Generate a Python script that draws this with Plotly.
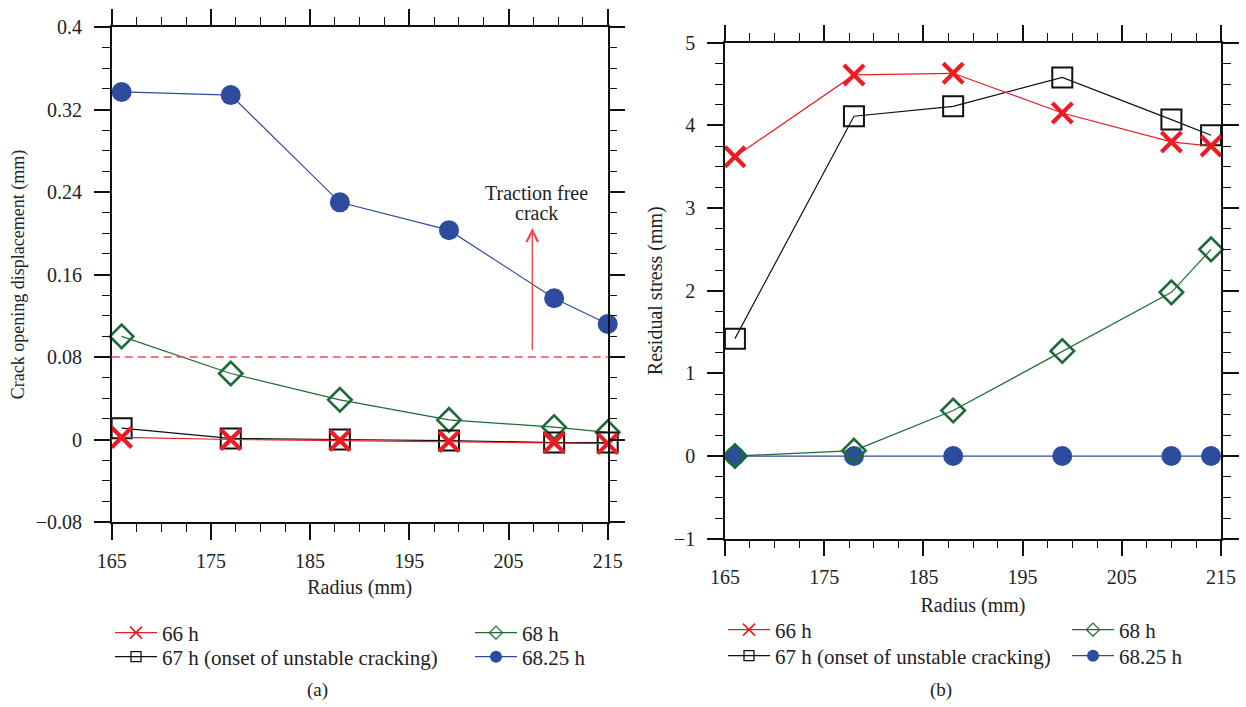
import plotly.graph_objects as go

# ---------------- data ----------------
SERIES_NAMES = ["66 h", "67 h (onset of unstable cracking)", "68 h", "68.25 h"]

# (a) crack opening displacement
RADIUS_A = [166, 177, 188, 199, 209.6, 215]
COD_66 = [0.002, 0.0, -0.001, -0.002, -0.003, -0.004]
COD_67 = [0.011, 0.001, 0.0, -0.001, -0.003, -0.003]
COD_68 = [0.100, 0.064, 0.0385, 0.019, 0.012, 0.007]
COD_6825 = [0.337, 0.334, 0.230, 0.203, 0.137, 0.112]
TRACTION_FREE_COD = 0.08
ARROW_X = 207.4
ARROW_Y = [0.0855, 0.205]
ANNOT_LINES = ["Traction free", "crack"]
ANNOT_Y = [0.2387, 0.2192]

# (b) residual stress
RADIUS_B = [166, 178, 188, 199, 210, 214]
RS_66 = [3.62, 4.61, 4.63, 4.15, 3.80, 3.75]
RS_67 = [1.42, 4.11, 4.23, 4.58, 4.07, 3.88]
RS_68 = [0.0, 0.065, 0.55, 1.27, 1.98, 2.50]
RS_6825 = [0.0, 0.0, 0.0, 0.0, 0.0, 0.0]

# ---------------- style ----------------
RED = "#ED1C24"
BLACK = "#111111"
GREEN = "#1B6B35"
BLUE = "#2E4C9E"
DASH_RED = "#EE4A50"
TXT = "#222222"
FONT = "Liberation Serif"
FS = 20
LEG_FS = 21

W, H = 1246, 707
XA = [111.7 / W, 607.7 / W]
YA = [(H - 522) / H, (H - 27) / H]
XB = [725 / W, 1221 / W]
YB = [(H - 538.7) / H, (H - 42.7) / H]

fig = go.Figure()

styles = {
    "66 h": dict(color=RED, symbol="x-thin", size=20, lw=4.2, legsize=12, leglw=1.6),
    "67 h (onset of unstable cracking)": dict(color=BLACK, symbol="square-open", size=20, lw=2.0, legsize=10, leglw=1.3),
    "68 h": dict(color=GREEN, symbol="diamond-open", size=18, lw=2.6, legsize=10, leglw=1.3),
    "68.25 h": dict(color=BLUE, symbol="circle", size=20, lw=0, legsize=12, leglw=0),
}

def add_series(x, y, name, xaxis, yaxis):
    s = styles[name]
    fig.add_trace(go.Scatter(
        x=x, y=y, mode="lines+markers", name=name, showlegend=False,
        xaxis=xaxis, yaxis=yaxis, cliponaxis=False,
        line=dict(color=s["color"], width=1.2),
        marker=dict(symbol=s["symbol"], size=s["size"], color=s["color"],
                    line=dict(color=s["color"], width=s["lw"])),
    ))

def add_legend_entry(name, legend):
    s = styles[name]
    fig.add_trace(go.Scatter(
        x=[None], y=[None], mode="lines+markers", name=name, legend=legend,
        xaxis="x", yaxis="y",
        line=dict(color=s["color"], width=1.3),
        marker=dict(symbol=s["symbol"], size=s["legsize"], color=s["color"],
                    line=dict(color=s["color"], width=s["leglw"])),
    ))

# draw order: blue, green, black, red (red on top)
for name, ya_vals in [("68.25 h", COD_6825), ("68 h", COD_68),
                      ("67 h (onset of unstable cracking)", COD_67), ("66 h", COD_66)]:
    add_series(RADIUS_A, ya_vals, name, "x", "y")
for name, yb_vals in [("68.25 h", RS_6825), ("68 h", RS_68),
                      ("67 h (onset of unstable cracking)", RS_67), ("66 h", RS_66)]:
    add_series(RADIUS_B, yb_vals, name, "x2", "y2")

# one legend per entry, placed in a 2x2 grid below each panel
legend_layout = {}
grid_a = {"66 h": (110, 633), "68 h": (470, 633),
          "67 h (onset of unstable cracking)": (110, 657), "68.25 h": (470, 657)}
grid_b = {"66 h": (723, 630), "68 h": (1067, 630),
          "67 h (onset of unstable cracking)": (723, 656), "68.25 h": (1067, 656)}
k = 1
for grid in (grid_a, grid_b):
    for name, (px, py) in grid.items():
        key = "legend" if k == 1 else f"legend{k}"
        add_legend_entry(name, key)
        legend_layout[key] = dict(
            x=px / W, xanchor="left", y=(H - py) / H, yanchor="middle",
            itemwidth=42,
            font=dict(family=FONT, size=LEG_FS, color=TXT), bgcolor="rgba(0,0,0,0)",
            borderwidth=0)
        k += 1

axis_common = dict(
    showline=True, linecolor=BLACK, linewidth=1.5, mirror="ticks",
    ticks="outside", ticklen=16, tickwidth=1.5, tickcolor=BLACK,
    showgrid=False, zeroline=False, automargin=False,
    tickfont=dict(family=FONT, size=FS, color=TXT),
)
minor_common = dict(ticklen=8, tickwidth=1.3, tickcolor=BLACK, ticks="outside")

fig.update_layout(
    width=W, height=H,
    margin=dict(l=0, r=0, t=0, b=0),
    paper_bgcolor="white", plot_bgcolor="white",
    font=dict(family=FONT, size=FS, color=TXT),
    xaxis=dict(domain=XA, anchor="y", range=[165, 215], tick0=165, dtick=10,
               minor=dict(dtick=2.5, **minor_common),
               title=dict(text="Radius (mm)", standoff=9, font=dict(family=FONT, size=FS, color=TXT)),
               ticklabelstandoff=4, **axis_common),
    yaxis=dict(domain=YA, anchor="x", range=[-0.08, 0.4], tick0=-0.08, dtick=0.08,
               minor=dict(dtick=0.02, **minor_common),
               title=dict(text="Crack opening displacement (mm)", standoff=6,
                          font=dict(family=FONT, size=18, color=TXT)),
               ticklabelstandoff=8, **axis_common),
    xaxis2=dict(domain=XB, anchor="y2", range=[165, 215], tick0=165, dtick=10,
                minor=dict(dtick=2.5, **minor_common),
                title=dict(text="Radius (mm)", standoff=11, font=dict(family=FONT, size=FS, color=TXT)),
                ticklabelstandoff=4, **axis_common),
    yaxis2=dict(domain=YB, anchor="x2", range=[-1, 5], tick0=-1, dtick=1,
                minor=dict(dtick=0.25, **minor_common),
                title=dict(text="Residual stress (mm)", standoff=6,
                           font=dict(family=FONT, size=FS, color=TXT)),
                ticklabelstandoff=8, **axis_common),
    showlegend=True,
    **legend_layout,
)

# traction free reference line
fig.add_shape(type="line", xref="x domain", x0=0, x1=1, yref="y",
              y0=TRACTION_FREE_COD, y1=TRACTION_FREE_COD,
              line=dict(color=DASH_RED, width=1.4, dash="8px,5px"))

# arrow
fig.add_annotation(x=ARROW_X, y=ARROW_Y[1], ax=ARROW_X, ay=ARROW_Y[0],
                   xref="x", yref="y", axref="x", ayref="y", text="",
                   showarrow=True, arrowhead=5, arrowsize=1.6, arrowwidth=1.4,
                   arrowcolor=DASH_RED)
for txt, yv in zip(ANNOT_LINES, ANNOT_Y):
    fig.add_annotation(x=ARROW_X + 0.4, y=yv, xref="x", yref="y", text=txt,
                       showarrow=False, font=dict(family=FONT, size=FS, color=TXT))

# captions
fig.add_annotation(x=317 / W, y=(H - 690) / H, xref="paper", yref="paper", text="(a)",
                   xanchor="center", yanchor="middle",
                   showarrow=False, font=dict(family=FONT, size=FS - 1, color=TXT))
fig.add_annotation(x=941 / W, y=(H - 690) / H, xref="paper", yref="paper", text="(b)",
                   xanchor="center", yanchor="middle",
                   showarrow=False, font=dict(family=FONT, size=FS - 1, color=TXT))

fig.write_html("out.html", config={"displayModeBar": False},
               post_script="document.body.style.margin='0px';document.body.style.overflow='hidden';")
